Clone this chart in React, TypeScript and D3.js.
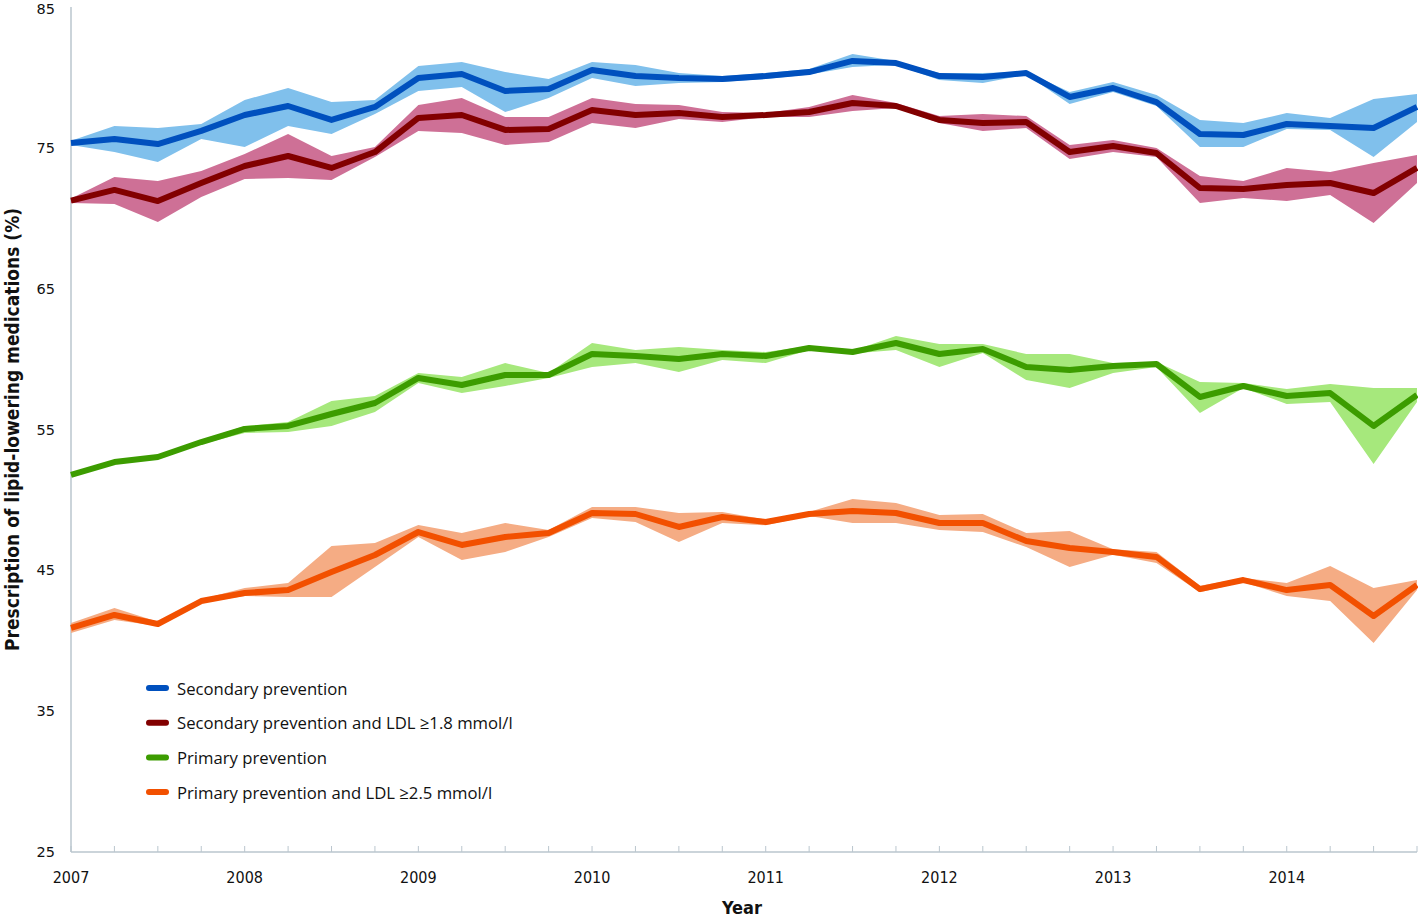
import React from "react";
import * as d3 from "d3";

const quarters = [
  2007, 2007.25, 2007.5, 2007.75, 2008, 2008.25, 2008.5, 2008.75,
  2009, 2009.25, 2009.5, 2009.75, 2010, 2010.25, 2010.5, 2010.75,
  2011, 2011.25, 2011.5, 2011.75, 2012, 2012.25, 2012.5, 2012.75,
  2013, 2013.25, 2013.5, 2013.75, 2014, 2014.25, 2014.5, 2014.75,
];

const yearLabels = [2007, 2008, 2009, 2010, 2011, 2012, 2013, 2014];
const yTicks = [25, 35, 45, 55, 65, 75, 85];

// secondary prevention
const secMean = [75.34, 75.63, 75.27, 76.2, 77.33, 77.97, 76.98, 77.9, 79.96, 80.24, 79.04, 79.18, 80.53, 80.1, 79.96, 79.89, 80.1, 80.38, 81.17, 81.02, 80.1, 80.03, 80.31, 78.61, 79.25, 78.25, 75.98, 75.91, 76.69, 76.55, 76.41, 77.9];
const secLo = [75.2, 74.7, 73.99, 75.63, 75.06, 76.55, 75.98, 77.4, 79.04, 79.32, 77.54, 78.54, 79.96, 79.39, 79.6, 79.67, 79.89, 80.2, 80.74, 80.9, 79.82, 79.6, 80.2, 78.11, 78.96, 77.97, 75.06, 75.06, 76.34, 76.27, 74.35, 76.83];
const secHi = [75.5, 76.55, 76.41, 76.69, 78.4, 79.25, 78.25, 78.4, 80.81, 81.09, 80.38, 79.89, 81.09, 80.88, 80.31, 80.1, 80.31, 80.6, 81.66, 81.17, 80.31, 80.31, 80.4, 78.96, 79.67, 78.75, 76.98, 76.76, 77.47, 77.12, 78.47, 78.82];

// secondary prevention and LDL >= 1.8
const secLdlMean = [71.25, 72.01, 71.22, 72.5, 73.71, 74.42, 73.57, 74.7, 77.12, 77.33, 76.27, 76.34, 77.69, 77.33, 77.47, 77.19, 77.33, 77.54, 78.18, 77.97, 76.98, 76.76, 76.83, 74.7, 75.13, 74.63, 72.15, 72.08, 72.36, 72.5, 71.79, 73.57];
const secLdlLo = [71.08, 71.01, 69.73, 71.51, 72.79, 72.86, 72.72, 74.35, 76.2, 76.05, 75.2, 75.41, 76.76, 76.41, 77.05, 76.83, 77.19, 77.19, 77.62, 77.83, 76.76, 76.2, 76.41, 74.21, 74.7, 74.35, 71.08, 71.44, 71.22, 71.65, 69.66, 72.5];
const secLdlHi = [71.4, 72.93, 72.64, 73.35, 74.56, 75.98, 74.42, 75.06, 78.04, 78.54, 77.19, 77.19, 78.54, 78.11, 78.04, 77.54, 77.47, 77.9, 78.75, 78.18, 77.26, 77.4, 77.26, 75.2, 75.56, 74.99, 73.0, 72.64, 73.57, 73.28, 73.92, 74.49];

// primary prevention
const primMean = [51.77, 52.69, 53.05, 54.11, 55.04, 55.25, 56.1, 56.88, 58.66, 58.16, 58.87, 58.87, 60.36, 60.22, 60.0, 60.36, 60.22, 60.79, 60.5, 61.14, 60.36, 60.72, 59.44, 59.22, 59.51, 59.65, 57.31, 58.09, 57.38, 57.59, 55.25, 57.45];
const primLo = [51.7, 52.55, 52.95, 53.95, 54.75, 54.82, 55.25, 56.24, 58.3, 57.59, 58.09, 58.66, 59.44, 59.72, 59.08, 59.93, 59.72, 60.64, 60.4, 60.64, 59.44, 60.43, 58.51, 57.95, 59.01, 59.44, 56.17, 57.95, 56.81, 56.95, 52.55, 56.95];
const primHi = [51.85, 52.85, 53.15, 54.25, 55.25, 55.53, 57.02, 57.38, 59.01, 58.73, 59.72, 59.01, 61.14, 60.64, 60.86, 60.64, 60.5, 60.93, 60.6, 61.64, 61.07, 61.07, 60.36, 60.36, 59.72, 59.79, 58.37, 58.3, 57.88, 58.23, 57.95, 57.95];

// primary prevention and LDL >= 2.5
const primLdlMean = [40.91, 41.83, 41.19, 42.82, 43.39, 43.6, 44.88, 46.09, 47.72, 46.8, 47.37, 47.65, 49.07, 49.0, 48.08, 48.79, 48.43, 49.0, 49.21, 49.07, 48.36, 48.36, 47.08, 46.59, 46.3, 45.95, 43.67, 44.31, 43.6, 43.96, 41.76, 43.96];
const primLdlLo = [40.55, 41.48, 41.05, 42.7, 43.18, 43.11, 43.11, 45.24, 47.37, 45.73, 46.3, 47.37, 48.72, 48.43, 47.01, 48.36, 48.2, 48.85, 48.36, 48.36, 47.86, 47.72, 46.66, 45.24, 46.1, 45.52, 43.45, 44.15, 43.18, 42.82, 39.84, 43.6];
const primLdlHi = [41.26, 42.33, 41.35, 42.95, 43.74, 44.1, 46.73, 46.94, 48.22, 47.65, 48.36, 47.86, 49.5, 49.5, 49.07, 49.14, 48.6, 49.15, 50.07, 49.78, 48.93, 49.0, 47.65, 47.79, 46.5, 46.3, 43.9, 44.45, 44.1, 45.31, 43.74, 44.31];

const series = [
  { name: "Secondary prevention", mean: secMean, lo: secLo, hi: secHi, line: "#0050BE", band: "#80C0EC" },
  { name: "Secondary prevention and LDL \u22651.8 mmol/l", mean: secLdlMean, lo: secLdlLo, hi: secLdlHi, line: "#820000", band: "#CE7096" },
  { name: "Primary prevention", mean: primMean, lo: primLo, hi: primHi, line: "#3C9C00", band: "#A6E87C" },
  { name: "Primary prevention and LDL \u22652.5 mmol/l", mean: primLdlMean, lo: primLdlLo, hi: primLdlHi, line: "#F25000", band: "#F5AC84" },
];

const W = 1418;
const H = 918;
const left = 71;
const right = 1417;
const top = 7;
const bottom = 852;

const narrow = "'Liberation Sans Narrow', 'DejaVu Sans Condensed', sans-serif";

export default function App() {
  const x = d3.scaleLinear().domain([2007, 2014.75]).range([left, right]);
  const y = d3.scaleLinear().domain([25, 85]).range([bottom, top]);

  const bandGen = (lo, hi) =>
    d3
      .area()
      .x((d, i) => x(quarters[i]))
      .y0((d, i) => y(lo[i]))
      .y1((d, i) => y(hi[i]))(quarters);

  const lineGen = d3
    .line()
    .x((d, i) => x(quarters[i]))
    .y((d) => y(d));

  const axisColor = "#BAC6CE";

  return (
    <svg
      width={W}
      height={H}
      style={{ position: "absolute", left: 0, top: 0, background: "#fff" }}
    >
      {/* axes */}
      <line x1={left} x2={left} y1={top} y2={bottom} stroke={axisColor} strokeWidth={1.5} />
      <line x1={left} x2={right} y1={bottom} y2={bottom} stroke={axisColor} strokeWidth={1.5} />
      {quarters.map((q) => (
        <line key={q} x1={x(q)} x2={x(q)} y1={bottom} y2={bottom - 6} stroke={axisColor} strokeWidth={1} />
      ))}

      {yTicks.map((t) => (
        <text
          key={t}
          x={55}
          y={Math.max(y(t), 9)}
          textAnchor="end"
          dominantBaseline="central"
          fontFamily="DejaVu Sans, sans-serif"
          fontSize={14.5}
          fill="#111"
        >
          {t}
        </text>
      ))}
      {yearLabels.map((t) => (
        <text
          key={t}
          x={x(t)}
          y={877}
          textAnchor="middle"
          dominantBaseline="central"
          fontFamily={narrow}
          fontSize={16}
          fill="#111"
        >
          {t}
        </text>
      ))}

      <text
        x={742}
        y={907}
        textAnchor="middle"
        dominantBaseline="central"
        fontFamily={narrow}
        fontWeight="bold"
        fontSize={18}
        fill="#111"
      >
        Year
      </text>
      <text
        transform={`translate(12, ${y(55)}) rotate(-90)`}
        textAnchor="middle"
        dominantBaseline="central"
        fontFamily={narrow}
        fontWeight="bold"
        fontSize={19}
        fill="#111"
      >
        Prescription of lipid-lowering medications (%)
      </text>

      {/* bands and lines */}
      {series.map((s) => (
        <g key={s.name}>
          <path d={bandGen(s.lo, s.hi)} fill={s.band} />
          <path
            d={lineGen(s.mean)}
            fill="none"
            stroke={s.line}
            strokeWidth={6}
            strokeLinejoin="round"
          />
        </g>
      ))}

      {/* legend */}
      {series.map((s, i) => (
        <g key={"lg" + i} transform={`translate(147, ${688 + i * 34.7})`}>
          <line x1={2} x2={19} y1={0} y2={0} stroke={s.line} strokeWidth={6} strokeLinecap="round" />
          <text
            x={30}
            y={0}
            dominantBaseline="central"
            fontFamily="'Open Sans', sans-serif"
            fontSize={16.7}
            fill="#111"
          >
            {s.name}
          </text>
        </g>
      ))}
    </svg>
  );
}
